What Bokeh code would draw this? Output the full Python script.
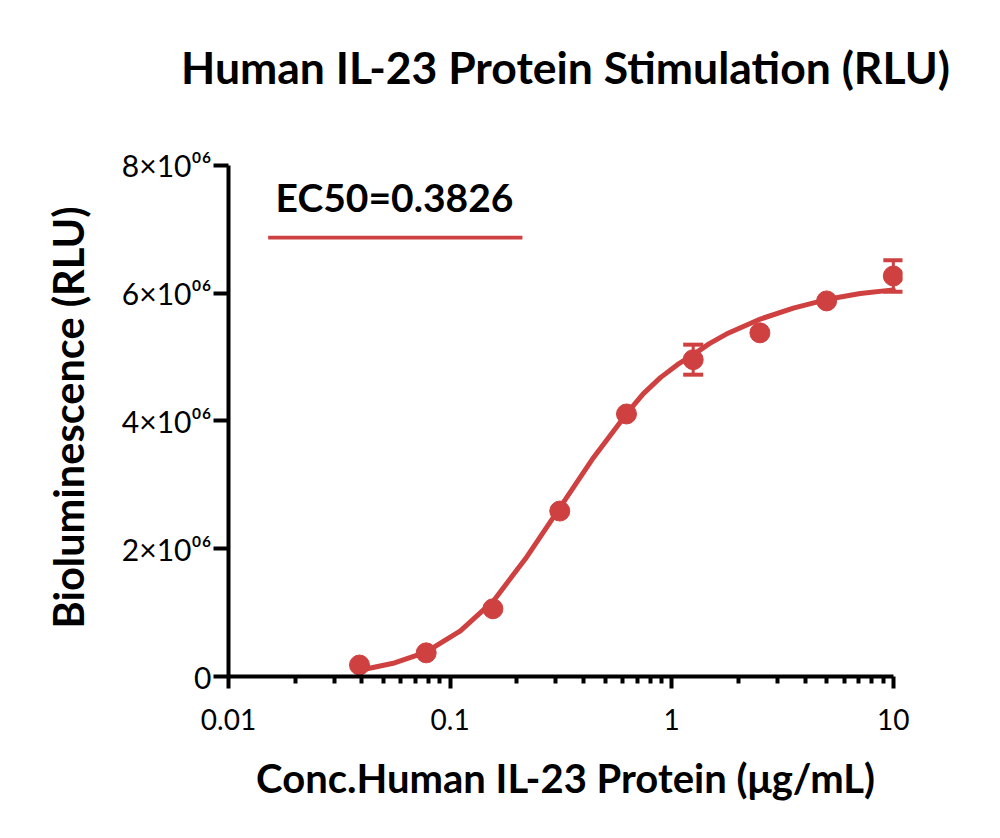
from bokeh.plotting import figure
from bokeh.models import (Label, FixedTicker, CustomJSTickFormatter, Whisker, TeeHead,
                          ColumnDataSource, Range1d, BoxAnnotation, Title)
from bokeh.embed import file_html
from bokeh.resources import INLINE

# ---- data ----
conc = [0.039, 0.078, 0.156, 0.3125, 0.625, 1.25, 2.5, 5.0, 10.0]
rlu = [0.18e6, 0.37e6, 1.06e6, 2.59e6, 4.11e6, 4.96e6, 5.38e6, 5.88e6, 6.27e6]
rlu_err = [0, 0, 0, 0, 0, 0.235e6, 0, 0, 0.245e6]

# fitted curve
curve_x = [0.0406, 0.0561, 0.0774, 0.1113, 0.1568, 0.2187, 0.3081, 0.4432, 0.631,
           0.7451, 0.889, 1.0605, 1.252, 1.479, 1.764, 2.512, 3.539, 4.986, 7.098, 10.0]
curve_y = [0.110e6, 0.212e6, 0.376e6, 0.713e6, 1.183e6, 1.842e6, 2.610e6, 3.425e6,
           4.130e6, 4.428e6, 4.679e6, 4.882e6, 5.039e6, 5.212e6, 5.361e6, 5.596e6,
           5.768e6, 5.901e6, 5.995e6, 6.053e6]

x_ticks = [0.01, 0.1, 1, 10]
x_tick_labels = ["0.01", "0.1", "1", "10"]
y_ticks = [0, 2e6, 4e6, 6e6, 8e6]
y_tick_labels = ["0", "2×10⁰⁶", "4×10⁰⁶", "6×10⁰⁶", "8×10⁰⁶"]

title_text = "Human IL-23 Protein Stimulation (RLU)"
x_label = "Conc.Human IL-23 Protein (μg/mL)"
y_label = "Bioluminescence (RLU)"
ec50_text = "EC50=0.3826"

RED = "#cf4040"
FONT = "Lato"

p = figure(width=1000, height=838, x_axis_type="log",
           x_range=Range1d(0.01, 11), y_range=Range1d(0, 8.861e6),
           output_backend="svg", toolbar_location=None,
           min_border_left=228, min_border_right=98,
           min_border_top=110, min_border_bottom=162)
p.outline_line_color = None
p.xgrid.visible = False
p.ygrid.visible = False
p.background_fill_color = "white"
p.border_fill_color = "white"

# title
p.title.text = title_text
p.title.align = "center"
p.title.text_font = FONT
p.title.text_font_style = "bold"
p.title.text_font_size = "44.5px"
p.title.text_color = "black"
p.title.standoff = 35

# x axis
minor = [m * d for d in [0.01, 0.1, 1] for m in range(2, 10)]
xa = p.xaxis[0]
xa.ticker = FixedTicker(ticks=x_ticks, minor_ticks=minor)
xa.formatter = CustomJSTickFormatter(
    args=dict(tks=x_ticks, lbls=x_tick_labels),
    code="let b=0, d=1e9; for (let i=0;i<tks.length;i++){const e=Math.abs(Math.log10(tks[i])-Math.log10(tick)); if(e<d){d=e;b=i}} return lbls[b];")
xa.bounds = (0.01, 10)
xa.axis_line_width = 4
xa.major_tick_line_width = 4
xa.minor_tick_line_width = 4
xa.major_tick_out = 12
xa.major_tick_in = 0
xa.minor_tick_out = 7
xa.minor_tick_in = 0
xa.major_label_text_font = FONT
xa.major_label_text_font_size = "28px"
xa.major_label_text_color = "black"
xa.major_label_standoff = 20
xa.axis_label = x_label
xa.axis_label_text_font = FONT
xa.axis_label_text_font_style = "bold"
xa.axis_label_text_font_size = "40px"
xa.axis_label_text_color = "black"
xa.axis_label_standoff = 21

# y axis
ya = p.yaxis[0]
ya.ticker = FixedTicker(ticks=y_ticks, minor_ticks=[])
ya.formatter = CustomJSTickFormatter(
    args=dict(tks=y_ticks, lbls=y_tick_labels),
    code="let b=0, d=1e99; for (let i=0;i<tks.length;i++){const e=Math.abs(tks[i]-tick); if(e<d){d=e;b=i}} return lbls[b];")
ya.bounds = (0, 8e6)
ya.axis_line_width = 4
ya.major_tick_line_width = 4
ya.major_tick_out = 15
ya.major_tick_in = 0
ya.minor_tick_out = 0
ya.minor_tick_in = 0
ya.major_label_text_font = FONT
ya.major_label_text_font_size = "30px"
ya.major_label_text_color = "black"
ya.major_label_standoff = 2

# y axis title, as a side title so that it can be placed along the axis span
p.add_layout(Title(text=y_label, align="left", offset=48, standoff=52,
                   text_font=FONT, text_font_style="bold", text_font_size="41.5px",
                   text_color="black"), "left")

# fitted curve
p.line(curve_x, curve_y, line_color=RED, line_width=5, line_join="round", line_cap="round")

# error bars
eb_x = [x for x, e in zip(conc, rlu_err) if e > 0]
eb_up = [y + e for y, e in zip(rlu, rlu_err) if e > 0]
eb_lo = [y - e for y, e in zip(rlu, rlu_err) if e > 0]
eb_src = ColumnDataSource(dict(base=eb_x, upper=eb_up, lower=eb_lo))
p.add_layout(Whisker(source=eb_src, base="base", upper="upper", lower="lower",
                     line_color=RED, line_width=3, level="glyph",
                     upper_head=TeeHead(size=20, line_color=RED, line_width=4),
                     lower_head=TeeHead(size=20, line_color=RED, line_width=4)))

# data points
p.scatter(conc, rlu, size=20, fill_color=RED, line_color=RED, line_width=1)

# legend
p.add_layout(Label(x=0.01, y=8e6, x_units="data", y_units="data", text=ec50_text,
                   x_offset=166, y_offset=-32, text_align="center", text_baseline="middle",
                   text_font=FONT, text_font_style="bold", text_font_size="39px",
                   text_color="black"))
p.add_layout(BoxAnnotation(left=0.0151, right=0.212, bottom=6.84e6, top=6.90e6,
                           fill_color=RED, fill_alpha=1, line_color=None))

open("out.html", "w").write(file_html(p, INLINE))
